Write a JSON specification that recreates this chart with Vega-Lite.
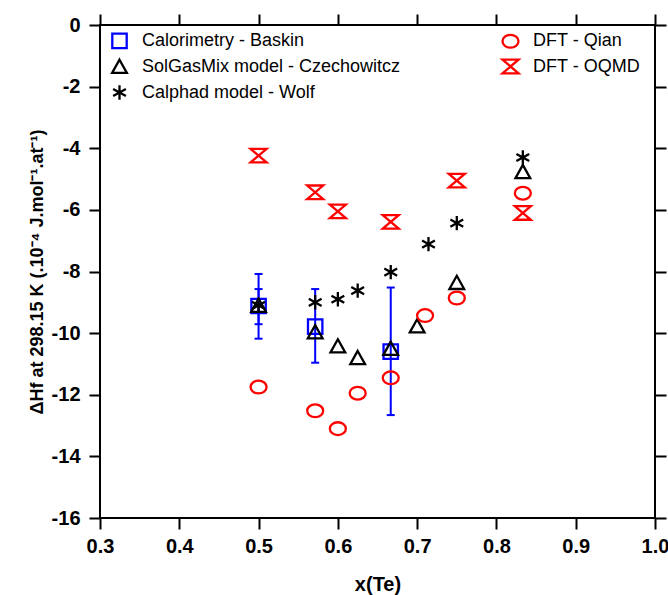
{
  "$schema": "https://vega.github.io/schema/vega-lite/v6.json",
  "width": 555,
  "height": 493,
  "autosize": {"type": "none"},
  "padding": {"left": 100, "top": 25, "right": 13, "bottom": 77},
  "background": "white",
  "config": {
    "font": "Liberation Sans",
    "view": {"stroke": "black", "strokeWidth": 2},
    "axis": {
      "domainColor": "black", "domainWidth": 2,
      "tickColor": "black", "tickWidth": 2, "tickSize": 11,
      "labelFont": "Liberation Sans", "labelFontSize": 20, "labelFontWeight": "bold", "labelColor": "black",
      "labelFlush": false, "labelOverlap": false,
      "titleFont": "Liberation Sans", "titleFontSize": 20, "titleFontWeight": "bold", "titleColor": "black",
      "grid": false
    },
    "legend": {
      "orient": "none", "legendX": 10, "legendY": 6,
      "columns": 2, "columnPadding": 96, "rowPadding": 2,
      "labelFont": "Liberation Sans", "labelFontSize": 18, "labelColor": "black",
      "labelLimit": 400, "labelOffset": 13,
      "symbolSize": 256, "symbolStrokeWidth": 2.3
    }
  },
  "datasets": {
    "points": [
      {"x": 0.5, "y": -9.12, "series": "Calorimetry - Baskin"},
      {"x": 0.5714, "y": -9.79, "series": "Calorimetry - Baskin"},
      {"x": 0.6667, "y": -10.6, "series": "Calorimetry - Baskin"},
      {"x": 0.5, "y": -9.1, "series": "SolGasMix model - Czechowitcz"},
      {"x": 0.5714, "y": -9.96, "series": "SolGasMix model - Czechowitcz"},
      {"x": 0.6, "y": -10.42, "series": "SolGasMix model - Czechowitcz"},
      {"x": 0.625, "y": -10.8, "series": "SolGasMix model - Czechowitcz"},
      {"x": 0.6667, "y": -10.5, "series": "SolGasMix model - Czechowitcz"},
      {"x": 0.7, "y": -9.77, "series": "SolGasMix model - Czechowitcz"},
      {"x": 0.75, "y": -8.36, "series": "SolGasMix model - Czechowitcz"},
      {"x": 0.8333, "y": -4.76, "series": "SolGasMix model - Czechowitcz"},
      {"x": 0.5, "y": -9.1, "series": "Calphad model - Wolf"},
      {"x": 0.5714, "y": -9.0, "series": "Calphad model - Wolf"},
      {"x": 0.6, "y": -8.9, "series": "Calphad model - Wolf"},
      {"x": 0.625, "y": -8.62, "series": "Calphad model - Wolf"},
      {"x": 0.6667, "y": -8.02, "series": "Calphad model - Wolf"},
      {"x": 0.7143, "y": -7.11, "series": "Calphad model - Wolf"},
      {"x": 0.75, "y": -6.43, "series": "Calphad model - Wolf"},
      {"x": 0.8333, "y": -4.3, "series": "Calphad model - Wolf"},
      {"x": 0.5, "y": -11.75, "series": "DFT - Qian"},
      {"x": 0.5714, "y": -12.52, "series": "DFT - Qian"},
      {"x": 0.6, "y": -13.1, "series": "DFT - Qian"},
      {"x": 0.625, "y": -11.95, "series": "DFT - Qian"},
      {"x": 0.6667, "y": -11.45, "series": "DFT - Qian"},
      {"x": 0.71, "y": -9.43, "series": "DFT - Qian"},
      {"x": 0.75, "y": -8.86, "series": "DFT - Qian"},
      {"x": 0.8333, "y": -5.46, "series": "DFT - Qian"},
      {"x": 0.5, "y": -4.24, "series": "DFT - OQMD"},
      {"x": 0.5714, "y": -5.43, "series": "DFT - OQMD"},
      {"x": 0.6, "y": -6.05, "series": "DFT - OQMD"},
      {"x": 0.6667, "y": -6.39, "series": "DFT - OQMD"},
      {"x": 0.75, "y": -5.05, "series": "DFT - OQMD"},
      {"x": 0.8333, "y": -6.1, "series": "DFT - OQMD"}
    ],
    "errors": [
      {"x": 0.5, "lo": -10.18, "hi": -8.08},
      {"x": 0.5, "lo": -9.71, "hi": -8.57},
      {"x": 0.5714, "lo": -10.96, "hi": -8.57},
      {"x": 0.6667, "lo": -12.66, "hi": -8.52}
    ]
  },
  "layer": [
    {
      "data": {"name": "errors"},
      "mark": {"type": "rule", "color": "#0000ff", "strokeWidth": 2},
      "encoding": {
        "x": {"field": "x", "type": "quantitative", "scale": {"domain": [0.3, 1.0], "nice": false, "zero": false},
              "axis": {"orient": "top", "labels": false, "title": null, "values": [0.3,0.4,0.5,0.6,0.7,0.8,0.9,1.0], "domain": false}},
        "y": {"field": "lo", "type": "quantitative", "scale": {"domain": [-16, 0], "nice": false, "zero": false},
              "axis": {"orient": "right", "labels": false, "title": null, "values": [-16,-14,-12,-10,-8,-6,-4,-2,0], "domain": false}},
        "y2": {"field": "hi"}
      }
    },
    {
      "data": {"name": "errors"},
      "mark": {"type": "point", "shape": "M-1,0L1,0", "size": 64, "filled": false, "color": "#0000ff", "strokeWidth": 2, "opacity": 1},
      "encoding": {
        "x": {"field": "x", "type": "quantitative", "axis": null},
        "y": {"field": "lo", "type": "quantitative", "axis": null}
      }
    },
    {
      "data": {"name": "errors"},
      "mark": {"type": "point", "shape": "M-1,0L1,0", "size": 64, "filled": false, "color": "#0000ff", "strokeWidth": 2, "opacity": 1},
      "encoding": {
        "x": {"field": "x", "type": "quantitative", "axis": null},
        "y": {"field": "hi", "type": "quantitative", "axis": null}
      }
    },
    {
      "data": {"name": "points"},
      "mark": {"type": "point", "filled": false, "size": 256, "strokeWidth": 2.3, "opacity": 1},
      "encoding": {
        "x": {"field": "x", "type": "quantitative",
              "axis": {"orient": "bottom", "title": "x(Te)", "values": [0.3,0.4,0.5,0.6,0.7,0.8,0.9,1.0], "format": ".1f", "labelPadding": 7, "titlePadding": 18, "domain": false}},
        "y": {"field": "y", "type": "quantitative",
              "axis": {"orient": "left", "title": "ΔHf at 298.15 K (.10⁻⁴ J.mol⁻¹.at⁻¹)", "titleFontSize": 18, "values": [-16,-14,-12,-10,-8,-6,-4,-2,0],
                       "labelExpr": "datum.value == 0 ? '0' : '-' + abs(datum.value)", "labelPadding": 9, "titlePadding": 5, "domain": false}},
        "color": {
          "field": "series", "type": "nominal", "title": null,
          "scale": {
            "domain": ["Calorimetry - Baskin", "SolGasMix model - Czechowitcz", "Calphad model - Wolf", "DFT - Qian", "DFT - OQMD"],
            "range": ["#0000ff", "#000000", "#000000", "#ff0000", "#ff0000"]
          }
        },
        "shape": {
          "field": "series", "type": "nominal", "title": null,
          "scale": {
            "domain": ["Calorimetry - Baskin", "SolGasMix model - Czechowitcz", "Calphad model - Wolf", "DFT - Qian", "DFT - OQMD"],
            "range": [
              "M-0.9,-0.9L0.9,-0.9L0.9,0.9L-0.9,0.9Z",
              "M0,-0.85L0.92,0.8L-0.92,0.8Z",
              "M0,-0.9L0,0.9M-0.8,-0.45L0.8,0.45M-0.8,0.45L0.8,-0.45",
              "M-1,0A1,0.8,0,1,0,1,0A1,0.8,0,1,0,-1,0Z",
              "M-1,-0.85L1,-0.85L-1,0.85L1,0.85Z"
            ]
          }
        }
      }
    }
  ],
  "resolve": {"axis": {"x": "independent", "y": "independent"}}
}
